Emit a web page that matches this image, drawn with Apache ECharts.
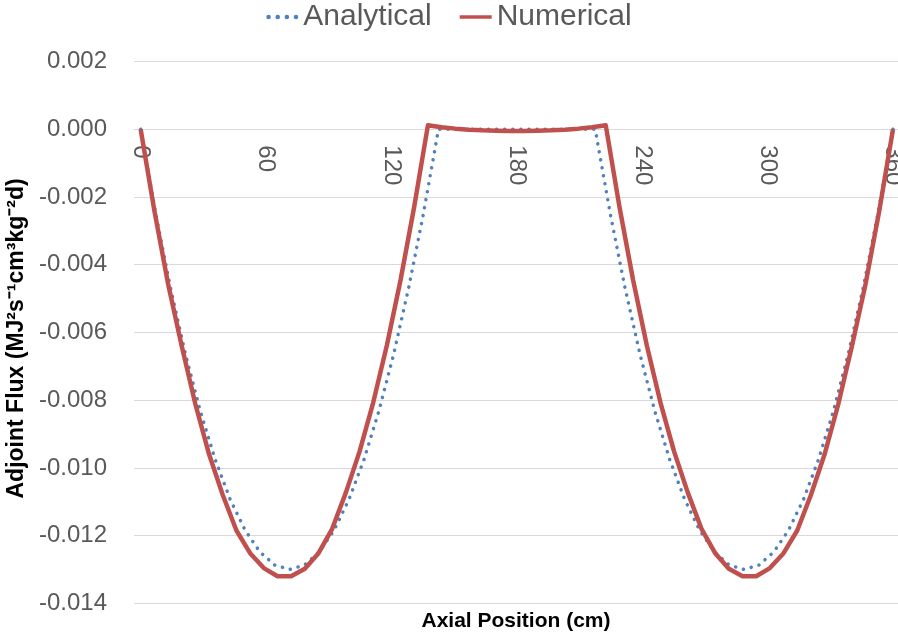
<!DOCTYPE html>
<html>
<head>
<meta charset="utf-8">
<script src="https://cdn.jsdelivr.net/npm/echarts@6/dist/echarts.min.js"></script>
<style>
html,body{margin:0;padding:0;background:#fff;}
#chart{width:898px;height:638px;}
</style>
</head>
<body>
<div id="chart"></div>
<script>
// ---- data ----
var seriesNames = ['Analytical', 'Numerical'];
var xTickLabels = [0, 60, 120, 180, 240, 300, 360];
var xAxisTitle = 'Axial Position (cm)';
var yAxisTitle = 'Adjoint Flux (MJ\u00B2s\u207B\u00B9cm\u00B3kg\u207B\u00B2d)';

var analyticalX = [0, 7.125, 14.25, 21.375, 28.5, 35.625, 42.75, 49.875, 57, 64.125, 71.25, 78.375, 85.5, 92.625, 99.75, 106.875, 114, 121.125, 128.25, 135.375, 142.5,
  150, 157.5, 165, 172.5, 180, 187.5, 195, 202.5, 210,
  217.5, 224.625, 231.75, 238.875, 246, 253.125, 260.25, 267.375, 274.5, 281.625, 288.75, 295.875, 303, 310.125, 317.25, 324.375, 331.5, 338.625, 345.75, 352.875, 360];
var analyticalY = [0, -0.00247, -0.00468, -0.00663, -0.00832, -0.00975, -0.01092, -0.01183, -0.01248, -0.01287, -0.01300, -0.01287, -0.01248, -0.01183, -0.01092, -0.00975, -0.00832, -0.00663, -0.00468, -0.00247, 0,
  0, 0, 0, 0, 0, 0, 0, 0, 0,
  0, -0.00247, -0.00468, -0.00663, -0.00832, -0.00975, -0.01092, -0.01183, -0.01248, -0.01287, -0.01300, -0.01287, -0.01248, -0.01183, -0.01092, -0.00975, -0.00832, -0.00663, -0.00468, -0.00247, 0];

var numericalX = [0, 6.545, 13.091, 19.636, 26.182, 32.727, 39.273, 45.818, 52.364, 58.909, 65.455, 72.000, 78.545, 85.091, 91.636, 98.182, 104.727, 111.273, 117.818, 124.364, 130.909, 137.455,
  144.000, 150.545, 157.091, 163.636, 170.182, 176.727, 183.273, 189.818, 196.364, 202.909, 209.455, 216.000,
  222.545, 229.091, 235.636, 242.182, 248.727, 255.273, 261.818, 268.364, 274.909, 281.455, 288.000, 294.545, 301.091, 307.636, 314.182, 320.727, 327.273, 333.818, 340.364, 346.909, 353.455, 360.000];
var numericalY = [0, -0.00240, -0.00456, -0.00640, -0.00812, -0.00960, -0.01080, -0.01185, -0.01252, -0.01296, -0.01320, -0.01320, -0.01298, -0.01252, -0.01180, -0.01073, -0.00952, -0.00807, -0.00638, -0.00445, -0.00228, 0.00012,
  0.00006, 0.00002, -0.00001, -0.00003, -0.00004, -0.00005, -0.00005, -0.00004, -0.00003, -0.00001, 0.00002, 0.00006,
  0.00012, -0.00228, -0.00445, -0.00638, -0.00807, -0.00952, -0.01073, -0.01180, -0.01252, -0.01298, -0.01320, -0.01320, -0.01296, -0.01252, -0.01185, -0.01080, -0.00960, -0.00812, -0.00640, -0.00456, -0.00240, 0];

function pairs(xs, ys) { return xs.map(function (x, i) { return [x, ys[i]]; }); }

var FONT = 'Liberation Sans';
var BLUE = '#4F81BD', RED = '#C0504D';
var dotsIcon = 'path://M0,2a2,2 0 1,0 4,0a2,2 0 1,0 -4,0ZM8,2a2,2 0 1,0 4,0a2,2 0 1,0 -4,0ZM16,2a2,2 0 1,0 4,0a2,2 0 1,0 -4,0ZM24,2a2,2 0 1,0 4,0a2,2 0 1,0 -4,0Z';
var barIcon = 'path://M0,0H36V4H0Z';

var GRID_TOP = 61.6, GRID_BOTTOM = 34.7, CHART_H = 638;
var Y_MIN = -0.014, Y_MAX = 0.002;
// place the x axis (with its labels) on the zero line, as in the reference
var zeroOffset = (CHART_H - GRID_TOP - GRID_BOTTOM) * (Y_MAX - 0) / (Y_MAX - Y_MIN);

var chart = echarts.init(document.getElementById('chart'), null, { renderer: 'canvas' });
chart.setOption({
  animation: false,
  backgroundColor: '#ffffff',
  textStyle: { fontFamily: FONT },
  legend: {
    data: [
      { name: seriesNames[0], icon: dotsIcon, itemStyle: { color: BLUE } },
      { name: seriesNames[1], icon: barIcon, itemStyle: { color: RED } }
    ],
    top: -3,
    left: 'center',
    itemWidth: 32,
    itemHeight: 14,
    itemGap: 28,
    textStyle: { fontSize: 30, color: '#595959', fontFamily: FONT }
  },
  grid: { left: 134, right: 0, top: GRID_TOP, bottom: GRID_BOTTOM, outerBoundsMode: 'none', containLabel: false },
  xAxis: {
    type: 'value',
    position: 'top',
    offset: -zeroOffset,
    min: -3.2,
    max: 362.4,
    axisLine: { show: true, onZero: false, lineStyle: { color: '#d9d9d9', width: 1 } },
    axisTick: { show: false },
    splitLine: { show: false },
    axisLabel: {
      customValues: xTickLabels,
      inside: true,
      rotate: 90,
      margin: 16,
      fontSize: 24,
      color: '#595959',
      fontFamily: FONT
    }
  },
  yAxis: {
    type: 'value',
    min: Y_MIN,
    max: Y_MAX,
    interval: 0.002,
    axisLine: { show: false },
    axisTick: { show: false },
    splitLine: { show: true, lineStyle: { color: '#d9d9d9', width: 1 } },
    axisLabel: {
      margin: 27,
      fontSize: 24,
      color: '#595959',
      fontFamily: FONT,
      formatter: function (v) { return (Math.abs(v) < 1e-9 ? 0 : v).toFixed(3); }
    },
    name: yAxisTitle,
    nameLocation: 'middle',
    nameGap: 95,
    nameRotate: 90,
    nameTextStyle: { fontSize: 23, fontWeight: 'bold', color: '#000000', fontFamily: FONT, padding: [0, 12, 0, 0] }
  },
  graphic: [{
    type: 'text',
    x: 516,
    y: 621,
    style: {
      text: xAxisTitle,
      fontSize: 21,
      fontWeight: 'bold',
      fontFamily: FONT,
      fill: '#000000',
      align: 'center',
      verticalAlign: 'middle'
    }
  }],
  series: [{
    name: seriesNames[0],
    type: 'line',
    data: pairs(analyticalX, analyticalY),
    symbol: 'none',
    smooth: false,
    lineStyle: { color: BLUE, width: 3.5, type: [0.1, 8], cap: 'round' },
    itemStyle: { color: BLUE },
    z: 2
  }, {
    name: seriesNames[1],
    type: 'line',
    data: pairs(numericalX, numericalY),
    symbol: 'none',
    smooth: false,
    lineStyle: { color: RED, width: 4.5, join: 'round' },
    itemStyle: { color: RED },
    z: 3
  }]
});
</script>
</body>
</html>
